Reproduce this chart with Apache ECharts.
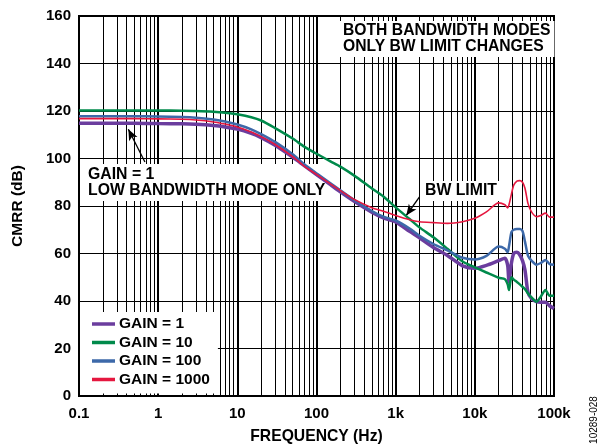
<!DOCTYPE html>
<html>
<head>
<meta charset="utf-8">
<script src="https://cdn.jsdelivr.net/npm/echarts@6/dist/echarts.min.js"></script>
<style>
  html, body { margin: 0; padding: 0; background: #fff; }
  #chart { width: 600px; height: 447px; }
</style>
</head>
<body>
<div id="chart"></div>
<script>
// ---- data ----
var FREQ = [0.1, 0.2, 0.5, 1, 2, 3, 5, 7, 10, 15, 20, 30, 50, 70, 100, 150, 200, 300, 500, 700,
  1000, 1500, 2000, 3000, 4500, 7000, 10000, 14000, 20000, 24000, 26000, 27000, 29000, 31000,
  34000, 37000, 40000, 43000, 47000, 52000, 60000, 68000, 78000, 88000, 100000];

var GAIN_1 = [114.8, 114.8, 114.8, 114.7, 114.6, 114.4, 113.9, 113.3, 112.4, 110.6, 108.8, 105.6, 100.6, 97, 93.2, 89, 86, 82, 77.4, 75,
  73.3, 69.3, 66.6, 62.5, 59.2, 54.8, 53.8, 55, 57, 58, 55, 48, 56, 60,
  60.5, 59.4, 57, 53, 43.5, 41, 39.7, 39.5, 39.5, 38, 36.8];

var GAIN_10 = [120.2, 120.2, 120.2, 120.2, 120.1, 120, 119.7, 119.3, 118.6, 117.4, 116, 112.8, 108.4, 105, 102, 98.8, 96.6, 92.8, 87.4, 84,
  79.4, 74.5, 71, 66.8, 62, 56.6, 54.2, 52, 49.8, 49.2, 47, 44.6, 50, 49,
  48, 47, 46, 45, 43.2, 41.5, 39.7, 41.8, 44.6, 42.2, 42.2];

var GAIN_100 = [117.8, 117.8, 117.8, 117.7, 117.5, 117.2, 116.4, 115.6, 114.3, 112.3, 110.3, 107, 101.8, 97.6, 93.8, 89.6, 86.6, 82.5, 77.9, 75.5,
  73.9, 70.5, 67.5, 64, 61.3, 58.2, 57.5, 59, 62.9, 62, 60.5, 63, 69, 70,
  70.3, 70.3, 69.5, 65, 59, 57, 55.3, 56, 57.3, 55.5, 55.3];

var GAIN_1000 = [116.8, 116.8, 116.8, 116.7, 116.5, 116.2, 115.4, 114.5, 113.3, 111.2, 109.2, 105.9, 100.8, 96.8, 93.3, 89.3, 86.5, 82.8, 79.3, 77.8,
  76, 74.2, 73.4, 73, 72.7, 73.4, 74.8, 77.5, 81.3, 80.5, 79.2, 80.5, 85, 88.8,
  90.5, 90.7, 90, 87.5, 81, 77.5, 75.5, 76, 77, 75.3, 75.3];

var X_MIN = 0.1;
var X_MAX = 100000;
var Y_TICKS = [0, 20, 40, 60, 80, 100, 120, 140, 160];
var DECADES = [0.1, 1, 10, 100, 1000, 10000];
var MINOR_STEPS = [2, 3, 4, 5, 6, 7, 8, 9];

// annotation arrows, in data units: [from, to]
var ARROW_GAIN1 = [[0.68, 98.5], [0.42, 112.3]];
var ARROW_BW = [[2000, 83.8], [1360, 76]];

var FONT = '"Liberation Sans", Arial, sans-serif';

var SERIES_DEF = [
  { name: 'GAIN = 1', values: GAIN_1, color: '#6b3d9e', width: 3.5 },
  { name: 'GAIN = 10', values: GAIN_10, color: '#008a4b', width: 2.5 },
  { name: 'GAIN = 100', values: GAIN_100, color: '#3d69a9', width: 2.5 },
  { name: 'GAIN = 1000', values: GAIN_1000, color: '#e5173f', width: 1.6 },
];

function fmtFreq(v) {
  if (v >= 1000) return (v / 1000) + 'k';
  return String(v);
}

var minorLines = [];
DECADES.forEach(function(d) {
  MINOR_STEPS.forEach(function(k) {
    minorLines.push({ xAxis: Math.round(d * k * 1000) / 1000 });
  });
});

// curves sit above the white annotation boxes (z 100)
var series = SERIES_DEF.map(function(s) {
  return {
    name: s.name,
    type: 'line',
    symbol: 'none',
    smooth: 0.25,
    z: 150,
    data: FREQ.map(function(f, i) { return [f, s.values[i]]; }),
    lineStyle: { color: s.color, width: s.width },
    itemStyle: { color: s.color },
  };
});

// minor vertical grid lines (2..9 in each decade)
series.unshift({
  name: 'minor-grid',
  type: 'line',
  data: [],
  z: 1,
  silent: true,
  markLine: {
    silent: true,
    symbol: 'none',
    label: { show: false },
    lineStyle: { color: '#000', width: 1, type: 'solid' },
    emphasis: { disabled: true },
    animation: false,
    data: minorLines,
  },
});

// annotation arrows
series.push({
  name: 'arrows',
  type: 'line',
  data: [],
  z: 160,
  silent: true,
  markLine: {
    silent: true,
    symbol: ['none', 'arrow'],
    symbolSize: [7, 11],
    label: { show: false },
    lineStyle: { color: '#000', width: 1.3, type: 'solid' },
    emphasis: { disabled: true },
    animation: false,
    data: [
      [{ coord: ARROW_GAIN1[0] }, { coord: ARROW_GAIN1[1] }],
      [{ coord: ARROW_BW[0] }, { coord: ARROW_BW[1] }],
    ],
  },
});

var chart = echarts.init(document.getElementById('chart'), null, { renderer: 'canvas' });

chart.setOption({
  animation: false,
  backgroundColor: '#fff',
  grid: {
    left: 79, right: 46, top: 16, bottom: 51,
    show: true, borderColor: '#000', borderWidth: 2, backgroundColor: 'transparent',
    outerBoundsMode: 'none',
  },
  xAxis: {
    type: 'log',
    logBase: 10,
    min: X_MIN,
    max: X_MAX,
    splitNumber: 6,
    name: 'FREQUENCY (Hz)',
    nameLocation: 'middle',
    nameGap: 33,
    nameTextStyle: { fontFamily: FONT, fontWeight: 'bold', fontSize: 15.7, color: '#000' },
    axisLine: { show: true, lineStyle: { color: '#000', width: 2 } },
    axisTick: { show: false },
    axisLabel: {
      margin: 10, fontFamily: FONT, fontWeight: 'bold', fontSize: 15, color: '#000',
      formatter: fmtFreq,
    },
    splitLine: { show: true, lineStyle: { color: '#000', width: 2 } },
  },
  yAxis: {
    type: 'value',
    min: Y_TICKS[0],
    max: Y_TICKS[Y_TICKS.length - 1],
    interval: 20,
    name: 'CMRR (dB)',
    nameLocation: 'middle',
    nameGap: 53,
    nameRotate: 90,
    nameTextStyle: { fontFamily: FONT, fontWeight: 'bold', fontSize: 15.5, color: '#000' },
    axisLine: { show: true, lineStyle: { color: '#000', width: 2 } },
    axisTick: { show: false },
    axisLabel: { margin: 8, fontFamily: FONT, fontWeight: 'bold', fontSize: 15, color: '#000' },
    splitLine: { show: true, lineStyle: { color: '#000', width: 1.2 } },
  },
  legend: {
    data: SERIES_DEF.map(function(s) { return s.name; }),
    orient: 'vertical',
    left: 80,
    top: 312,
    z: 120,
    padding: [4, 8, 6, 12],
    icon: 'rect',
    itemWidth: 23,
    itemHeight: 3.5,
    itemGap: 2.5,
    backgroundColor: '#fff',
    selectedMode: false,
    textStyle: { fontFamily: FONT, fontWeight: 'bold', fontSize: 15.5, color: '#000', padding: [0, 0, 0, -1] },
  },
  graphic: [
    {
      type: 'text', left: 337, top: 21, z: 100,
      style: {
        text: 'BOTH BANDWIDTH MODES\nONLY BW LIMIT CHANGES',
        font: 'bold 15.7px ' + FONT, fill: '#000', lineHeight: 16,
        backgroundColor: '#fff', padding: [2, 4, 2, 6],
      },
    },
    {
      type: 'text', left: 82, top: 164, z: 100,
      style: {
        text: 'GAIN = 1\nLOW BANDWIDTH MODE ONLY',
        font: 'bold 15.8px ' + FONT, fill: '#000', lineHeight: 16.5,
        backgroundColor: '#fff', padding: [2, 4, 2, 6],
      },
    },
    {
      type: 'text', left: 421, top: 181, z: 100,
      style: {
        text: 'BW LIMIT',
        font: 'bold 15.8px ' + FONT, fill: '#000', lineHeight: 16,
        backgroundColor: '#fff', padding: [2, 4, 2, 4],
      },
    },
    {
      type: 'text', z: 100,
      x: 594, y: 420, rotation: Math.PI / 2,
      style: {
        text: '10289-028',
        font: '10px ' + FONT, fill: '#000',
        align: 'center', verticalAlign: 'middle',
      },
    },
  ],
  series: series,
});
</script>
</body>
</html>
